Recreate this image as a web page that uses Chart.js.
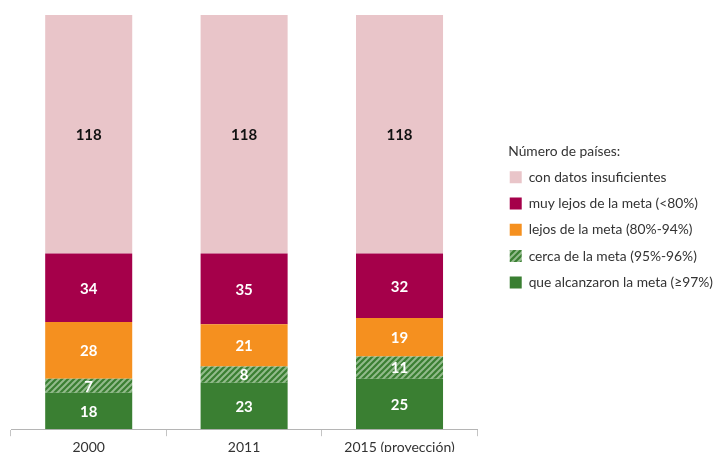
<!DOCTYPE html>
<html>
<head>
<meta charset="utf-8">
<script src="https://cdn.jsdelivr.net/npm/chart.js@4"></script>
<style>
  html, body { margin: 0; padding: 0; background: #fff; overflow: hidden; }
  #wrap { width: 718px; height: 452px; overflow: hidden; }
  #box { width: 718px; height: 459px; position: relative; }
</style>
</head>
<body>
<div id="wrap"><div id="box"><canvas id="chart"></canvas></div></div>
<script>
// DATA

const years = ['2000', '2011', '2015 (proyección)'];

const alcanzaron = [18, 23, 25];
const cerca = [7, 8, 11];
const lejos = [28, 21, 19];
const muyLejos = [34, 35, 32];
const insuficientes = [118, 118, 118];

// HATCH PATTERN

const makeHatch = (base, stripe) => {
  const size = 6;
  const c = document.createElement('canvas');
  c.width = size;
  c.height = size;
  const ctx = c.getContext('2d');
  ctx.fillStyle = base;
  ctx.fillRect(0, 0, size, size);
  ctx.strokeStyle = stripe;
  ctx.lineWidth = 2;
  ctx.beginPath();
  ctx.moveTo(0, size);
  ctx.lineTo(size, 0);
  ctx.moveTo(-size / 2, size / 2);
  ctx.lineTo(size / 2, -size / 2);
  ctx.moveTo(size / 2, size * 1.5);
  ctx.lineTo(size * 1.5, size / 2);
  ctx.stroke();
  return ctx.createPattern(c, 'repeat');
};

// VALUE LABELS

const segmentLabels = {
  id: 'segmentLabels',
  afterDatasetsDraw(chart) {
    const { ctx } = chart;
    ctx.save();
    ctx.font = 'bold 15px Lato, sans-serif';
    ctx.textAlign = 'center';
    ctx.textBaseline = 'middle';
    chart.data.datasets.forEach((ds, i) => {
      chart.getDatasetMeta(i).data.forEach((bar, j) => {
        const mid = (bar.y + bar.base) / 2;
        ctx.fillStyle = ds.labelColor;
        ctx.fillText(ds.data[j], bar.x, mid + 1);
      });
    });
    ctx.restore();
  },
};

// LEGEND PLACEMENT
// widen the legend box so the plot ends earlier, then move the
// legend contents right and a little up; the title lines up with the boxes

const WIDEN = 15;
const SHIFT = 20;
const LIFT = 14;
const TITLE_INDENT = 11;

const legendShift = {
  id: 'legendShift',
  beforeLayout(chart) {
    const lg = chart.legend;
    if (!lg || lg._widened) return;
    const fit = lg.fit;
    lg.fit = function () {
      fit.call(this);
      this.width += WIDEN;
    };
    const drawTitle = lg.drawTitle;
    lg.drawTitle = function () {
      this.left += TITLE_INDENT;
      drawTitle.call(this);
      this.left -= TITLE_INDENT;
    };
    lg._widened = true;
  },
  afterLayout(chart) {
    const lg = chart.legend;
    if (!lg) return;
    lg.left += SHIFT;
    lg.width = lg.right - lg.left;
    lg.top -= LIFT;
    lg.bottom -= LIFT;
  },
};

// CHART

const chart = new Chart(document.querySelector('#chart'), {
  type: 'bar',
  data: {
    labels: years,
    datasets: [
      {
        label: 'que alcanzaron la meta (≥97%)',
        data: alcanzaron,
        backgroundColor: '#3a7f32',
        labelColor: '#fff',
      },
      {
        label: 'cerca de la meta (95%-96%)',
        data: cerca,
        backgroundColor: makeHatch('#3a7f32', '#93bb8c'),
        labelColor: '#fff',
      },
      {
        label: 'lejos de la meta (80%-94%)',
        data: lejos,
        backgroundColor: '#f5901f',
        labelColor: '#fff',
      },
      {
        label: 'muy lejos de la meta (<80%)',
        data: muyLejos,
        backgroundColor: '#a5004a',
        labelColor: '#fff',
      },
      {
        label: 'con datos insuficientes',
        data: insuficientes,
        backgroundColor: '#e9c5c9',
        labelColor: '#111',
      },
    ],
  },
  options: {
    responsive: true,
    maintainAspectRatio: false,
    animation: false,
    datasets: {
      bar: {
        categoryPercentage: 1,
        barPercentage: 0.56,
        borderWidth: 0,
      },
    },
    layout: {
      padding: { left: 11, top: 15, right: 0, bottom: 0 },
    },
    plugins: {
      tooltip: { enabled: false },
      legend: {
        position: 'right',
        reverse: true,
        title: {
          display: true,
          text: 'Número de países:',
          position: 'start',
          color: '#333',
          font: { family: 'Lato, sans-serif', size: 13.8 },
          padding: { top: 0, bottom: -3 },
        },
        labels: {
          boxWidth: 12,
          boxHeight: 12,
          padding: 12.5,
          color: '#333',
          font: { family: 'Lato, sans-serif', size: 13.8 },
        },
      },
    },
    scales: {
      x: {
        stacked: true,
        grid: {
          drawOnChartArea: false,
          drawTicks: true,
          tickLength: 7,
          color: '#c4c4c4',
        },
        border: { display: true, color: '#b5b5b5' },
        ticks: {
          color: '#333',
          padding: 3,
          font: { family: 'Lato, sans-serif', size: 14 },
        },
      },
      y: {
        stacked: true,
        display: false,
        min: 0,
        max: 205,
      },
    },
  },
  plugins: [segmentLabels, legendShift],
});
</script>
</body>
</html>
